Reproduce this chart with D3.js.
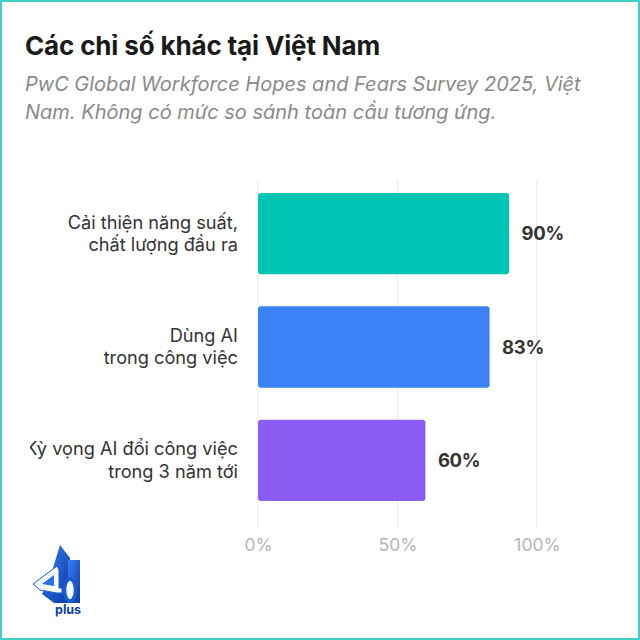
<!DOCTYPE html>
<html><head><meta charset="utf-8">
<script src="https://cdn.jsdelivr.net/npm/d3@7"></script>
<style>
html,body{margin:0;padding:0;background:#fff;}
#wrap{position:relative;width:636px;height:636px;border:2px solid #3fcfc4;overflow:hidden;background:#fff;}
svg{display:block;}
</style></head>
<body><div id="wrap"></div>
<script>
const title = "Các chỉ số khác tại Việt Nam";
const subtitleLines = ["PwC Global Workforce Hopes and Fears Survey 2025, Việt", "Nam. Không có mức so sánh toàn cầu tương ứng."];
const categories = [["Cải thiện năng suất,", "chất lượng đầu ra"], ["Dùng AI", "trong công việc"], ["Kỳ vọng AI đổi công việc", "trong 3 năm tới"]];
const values = [90, 83, 60];
const colors = ["#00c4b4", "#3b82f6", "#8b5cf6"];
const tickValues = [0, 50, 100];

const W = 636, H = 636;
const svg = d3.select("#wrap").append("svg").attr("width", W).attr("height", H);
const ox = -2, oy = -2; // page coords = svg coords + 2
const defs = svg.append("defs");
const font = "Inter, 'Noto Sans', sans-serif";

svg.append("text").attr("x", 25 + ox).attr("y", 55 + oy)
  .attr("font-family", font).attr("font-weight", 700)
  .attr("font-size", 26).attr("fill", "#1a1a1a").attr("letter-spacing", -0.15).text(title);

svg.selectAll("text.sub").data(subtitleLines).join("text").attr("class", "sub")
  .attr("x", 25 + ox).attr("y", (d, i) => 91 + i * 28 + oy)
  .attr("font-family", font).attr("font-style", "italic")
  .attr("font-size", 20).attr("fill", "#8a8a8a").text(d => d);

defs.append("clipPath").attr("id", "c")
  .append("rect").attr("x", 30).attr("y", 0).attr("width", W).attr("height", H);

const g = svg.append("g").attr("transform", `translate(${ox},${oy})`);
const gc = g.append("g").attr("clip-path", "url(#c)");

const x = d3.scaleLinear().domain([0, 100]).range([258, 537]);
const y = d3.scaleBand().domain(d3.range(categories.length)).range([180, 514])
  .paddingInner(0.283).paddingOuter(0.115);

g.selectAll("line.grid").data(tickValues).join("line").attr("class", "grid")
  .attr("x1", d => x(d)).attr("x2", d => x(d)).attr("y1", 180).attr("y2", 528)
  .attr("stroke", "#ececec").attr("stroke-width", 1.2);

const axis = d3.axisBottom(x).tickValues(tickValues).tickFormat(d => d + "%").tickSize(0).tickPadding(0);
const ag = g.append("g").attr("transform", "translate(0,551)").call(axis);
ag.select(".domain").remove();
ag.selectAll("text").attr("font-family", font).attr("font-size", 17.5)
  .attr("fill", "#b5b5b5").attr("dy", 0).attr("y", 0);

g.selectAll("rect.bar").data(values).join("rect").attr("class", "bar")
  .attr("x", x(0)).attr("y", (d, i) => y(i)).attr("width", d => x(d) - x(0))
  .attr("height", y.bandwidth()).attr("rx", 3).attr("fill", (d, i) => colors[i]);

g.selectAll("text.val").data(values).join("text").attr("class", "val")
  .attr("x", d => x(d) + 12.5).attr("y", (d, i) => y(i) + y.bandwidth() / 2).attr("dy", "0.36em")
  .attr("font-family", font).attr("font-weight", 700).attr("letter-spacing", -0.3)
  .attr("font-size", 18.5).attr("fill", "#333").text(d => d + "%");

const cl = gc.selectAll("text.cat").data(categories).join("text").attr("class", "cat")
  .attr("x", 238).attr("y", (d, i) => y(i) + y.bandwidth() / 2)
  .attr("text-anchor", "end").attr("font-family", font)
  .attr("font-size", 18.2).attr("fill", "#333");
cl.selectAll("tspan").data(d => d).join("tspan").attr("x", 238)
  .attr("dy", (d, i) => i === 0 ? "-0.27em" : "1.23em").text(d => d);

// logo (decorative)
const lg = svg.append("g").attr("transform", `translate(${ox},${oy})`);
const grad = defs.append("linearGradient").attr("id", "lgr").attr("x1", 0).attr("y1", 0).attr("x2", 1).attr("y2", 1);
grad.append("stop").attr("offset", 0).attr("stop-color", "#3a7ff0");
grad.append("stop").attr("offset", 1).attr("stop-color", "#0a3aa8");
lg.append("path").attr("d", "M60,545 L70,558 L70,603 L54,603 L42,594 L50,578 Z").attr("fill", "url(#lgr)");
lg.append("path").attr("d", "M68,560 L80,560 L80,603 L68,603 Z").attr("fill", "url(#lgr)");
lg.append("path").attr("d", "M33,584 L57,566 L59,570 L59,588 L62,588 L62,593 L57,593 L40,590 Z")
  .attr("fill", "#f4f8ff").attr("stroke", "#1e5fd0").attr("stroke-width", 1);
lg.append("path").attr("d", "M42,584 L54,575 L54,586 Z").attr("fill", "#2f6fe0");
lg.append("ellipse").attr("cx", 70).attr("cy", 590).attr("rx", 5.5).attr("ry", 11).attr("fill", "#f4f8ff")
  .attr("stroke", "#1a5bd0").attr("stroke-width", 3.5);
lg.append("text").attr("x", 55).attr("y", 614).attr("font-family", font).attr("font-weight", 700)
  .attr("font-size", 12.5).attr("fill", "#0b3fae").text("plus");
</script></body></html>
